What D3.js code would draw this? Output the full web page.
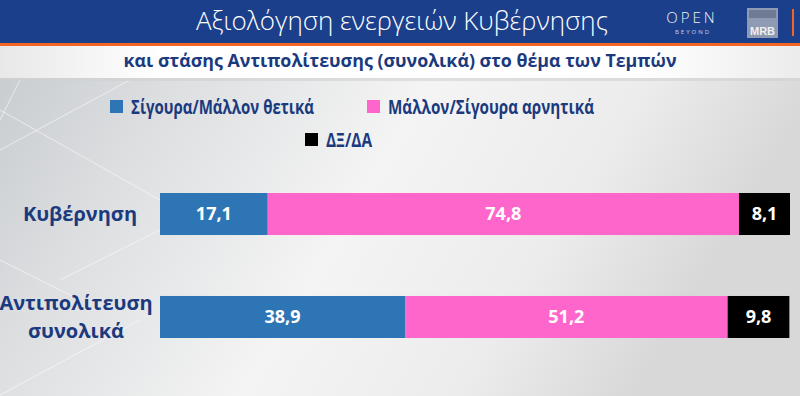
<!DOCTYPE html>
<html><head><meta charset="utf-8">
<script src="https://cdn.jsdelivr.net/npm/d3@7"></script>
<style>html,body{margin:0;padding:0;background:#fff;}svg{display:block;}</style>
</head><body>
<script>
const categories = ["Κυβέρνηση", "Αντιπολίτευση συνολικά"];
const seriesNames = ["Σίγουρα/Μάλλον θετικά", "Μάλλον/Σίγουρα αρνητικά", "ΔΞ/ΔΑ"];
const positive = [17.1, 38.9];
const negative = [74.8, 51.2];
const dkna = [8.1, 9.8];
const title = "Αξιολόγηση ενεργειών Κυβέρνησης";
const subtitle = "και στάσης Αντιπολίτευσης (συνολικά) στο θέμα των Τεμπών";

const W = 800, H = 396;
const colors = ["#2e75b6", "#ff66cc", "#000000"];
const navy = "#1b3a7e";
const font = "'Open Sans', 'Noto Sans', sans-serif";

const svg = d3.select("body").append("svg").attr("width", W).attr("height", H);
const defs = svg.append("defs");
const bg = defs.append("linearGradient").attr("id", "bg").attr("x1", 0).attr("x2", 1).attr("y1", 0).attr("y2", 0.3);
[[0, "#c4c8cc"], [0.25, "#dcdee0"], [0.55, "#f4f4f4"], [0.8, "#ececec"], [1, "#d8d8d8"]].forEach(s => bg.append("stop").attr("offset", s[0]).attr("stop-color", s[1]));
const sub = defs.append("linearGradient").attr("id", "sub").attr("x1", 0).attr("x2", 1);
[[0, "#e8e8e8"], [0.2, "#ffffff"], [0.8, "#ffffff"], [1, "#ececec"]].forEach(s => sub.append("stop").attr("offset", s[0]).attr("stop-color", s[1]));

svg.append("rect").attr("width", W).attr("height", H).attr("fill", "url(#bg)");
// decorative faint lines on left
const deco = svg.append("g").attr("stroke", "#ffffff").attr("stroke-opacity", 0.55).attr("fill", "none").attr("stroke-width", 1);
[[0, 150, 130, 80], [0, 110, 160, 200], [20, 80, 0, 120], [60, 280, 180, 220], [0, 260, 80, 300], [0, 395, 140, 320]].forEach(l =>
  deco.append("line").attr("x1", l[0]).attr("y1", l[1]).attr("x2", l[2]).attr("y2", l[3]));

// header
svg.append("rect").attr("x", 0).attr("y", 0).attr("width", W).attr("height", 43).attr("fill", "#1c3f8c");
svg.append("rect").attr("x", 0).attr("y", 43).attr("width", W).attr("height", 3).attr("fill", "#f26522");
svg.append("rect").attr("x", 0).attr("y", 46).attr("width", W).attr("height", 32).attr("fill", "url(#sub)");
svg.append("rect").attr("x", 0).attr("y", 78).attr("width", W).attr("height", 3).attr("fill", "#d0d0d0").attr("opacity", 0.6);

svg.append("text").attr("x", 402).attr("y", 30).attr("text-anchor", "middle")
  .attr("font-family", font).attr("font-weight", 300).attr("font-size", 26).attr("fill", "#ffffff")
  .attr("textLength", 412).attr("lengthAdjust", "spacingAndGlyphs").text(title);
svg.append("text").attr("x", 400).attr("y", 67).attr("text-anchor", "middle")
  .attr("font-family", font).attr("font-weight", 700).attr("font-size", 18).attr("fill", navy)
  .attr("textLength", 553).attr("lengthAdjust", "spacingAndGlyphs").text(subtitle);

// logos
svg.append("text").attr("x", 692).attr("y", 23).attr("text-anchor", "middle").attr("font-family", font)
  .attr("font-weight", 300).attr("font-size", 15).attr("letter-spacing", 3).attr("fill", "#f0f2f8").text("OPEN");
svg.append("text").attr("x", 693).attr("y", 34).attr("text-anchor", "middle").attr("font-family", font)
  .attr("font-size", 6).attr("letter-spacing", 2).attr("fill", "#c8d0e4").text("BEYOND");
svg.append("rect").attr("x", 747).attr("y", 8).attr("width", 31).attr("height", 30).attr("fill", "#8f9bb3");
svg.append("rect").attr("x", 749).attr("y", 10).attr("width", 27).attr("height", 8).attr("fill", "#6f7b94");
svg.append("text").attr("x", 762.5).attr("y", 35).attr("text-anchor", "middle").attr("font-family", "'Liberation Sans', Arial, sans-serif")
  .attr("font-weight", 700).attr("font-size", 11).attr("fill", "#f0f0f0").text("MRB");
svg.append("rect").attr("x", 792).attr("y", 9).attr("width", 2).attr("height", 27).attr("fill", "#f26522");

// legend
const legendItems = [
  {name: seriesNames[0], color: colors[0], x: 110, y: 107, w: 183},
  {name: seriesNames[1], color: colors[1], x: 367, y: 107, w: 206},
  {name: seriesNames[2], color: colors[2], x: 305, y: 140, w: 46}
];
const lg = svg.append("g");
legendItems.forEach(d => {
  lg.append("rect").attr("x", d.x).attr("y", d.y - 7).attr("width", 13).attr("height", 13).attr("fill", d.color);
  lg.append("text").attr("x", d.x + 21).attr("y", d.y).attr("dy", "0.35em")
    .attr("font-family", font).attr("font-weight", 700).attr("font-size", 20).attr("fill", navy)
    .attr("textLength", d.w).attr("lengthAdjust", "spacingAndGlyphs").text(d.name);
});

// bars
const rows = categories.map((c, i) => ({cat: c, a: positive[i], b: negative[i], c: dkna[i]}));
const stack = d3.stack().keys(["a", "b", "c"]);
const stacked = stack(rows);
const x = d3.scaleLinear().domain([0, 100]).range([160, 790]);
const y = d3.scaleBand().domain(categories).range([193, 338]).paddingInner(0.592).paddingOuter(0);
const fmt = v => d3.format(".1f")(v).replace(".", ",");

const g = svg.append("g");
stacked.forEach((layer, li) => {
  const lgp = g.append("g");
  lgp.selectAll("rect").data(layer).join("rect")
    .attr("x", d => x(d[0])).attr("y", d => y(d.data.cat))
    .attr("width", d => x(d[1]) - x(d[0])).attr("height", y.bandwidth())
    .attr("fill", colors[li]);
  lgp.selectAll("text").data(layer).join("text")
    .attr("x", d => (x(d[0]) + x(d[1])) / 2).attr("y", d => y(d.data.cat) + y.bandwidth() / 2)
    .attr("dy", "0.36em").attr("text-anchor", "middle")
    .attr("font-family", font).attr("font-weight", 700).attr("font-size", 18).attr("fill", "#ffffff")
    .text(d => fmt(d[1] - d[0]));
});

// category labels
const catLabelLines = [["Κυβέρνηση"], ["Αντιπολίτευση", "συνολικά"]];
categories.forEach((c, i) => {
  const lines = catLabelLines[i];
  const cy = y(c) + y.bandwidth() / 2;
  const t = svg.append("text").attr("text-anchor", "middle").attr("font-family", font)
    .attr("font-weight", 700).attr("font-size", 20).attr("fill", navy);
  lines.forEach((ln, k) => {
    t.append("tspan").attr("x", lines.length > 1 ? 76 : 80)
      .attr("y", cy + (k - (lines.length - 1) / 2) * 28).attr("dy", "0.35em").text(ln);
  });
});
</script>
</body></html>
